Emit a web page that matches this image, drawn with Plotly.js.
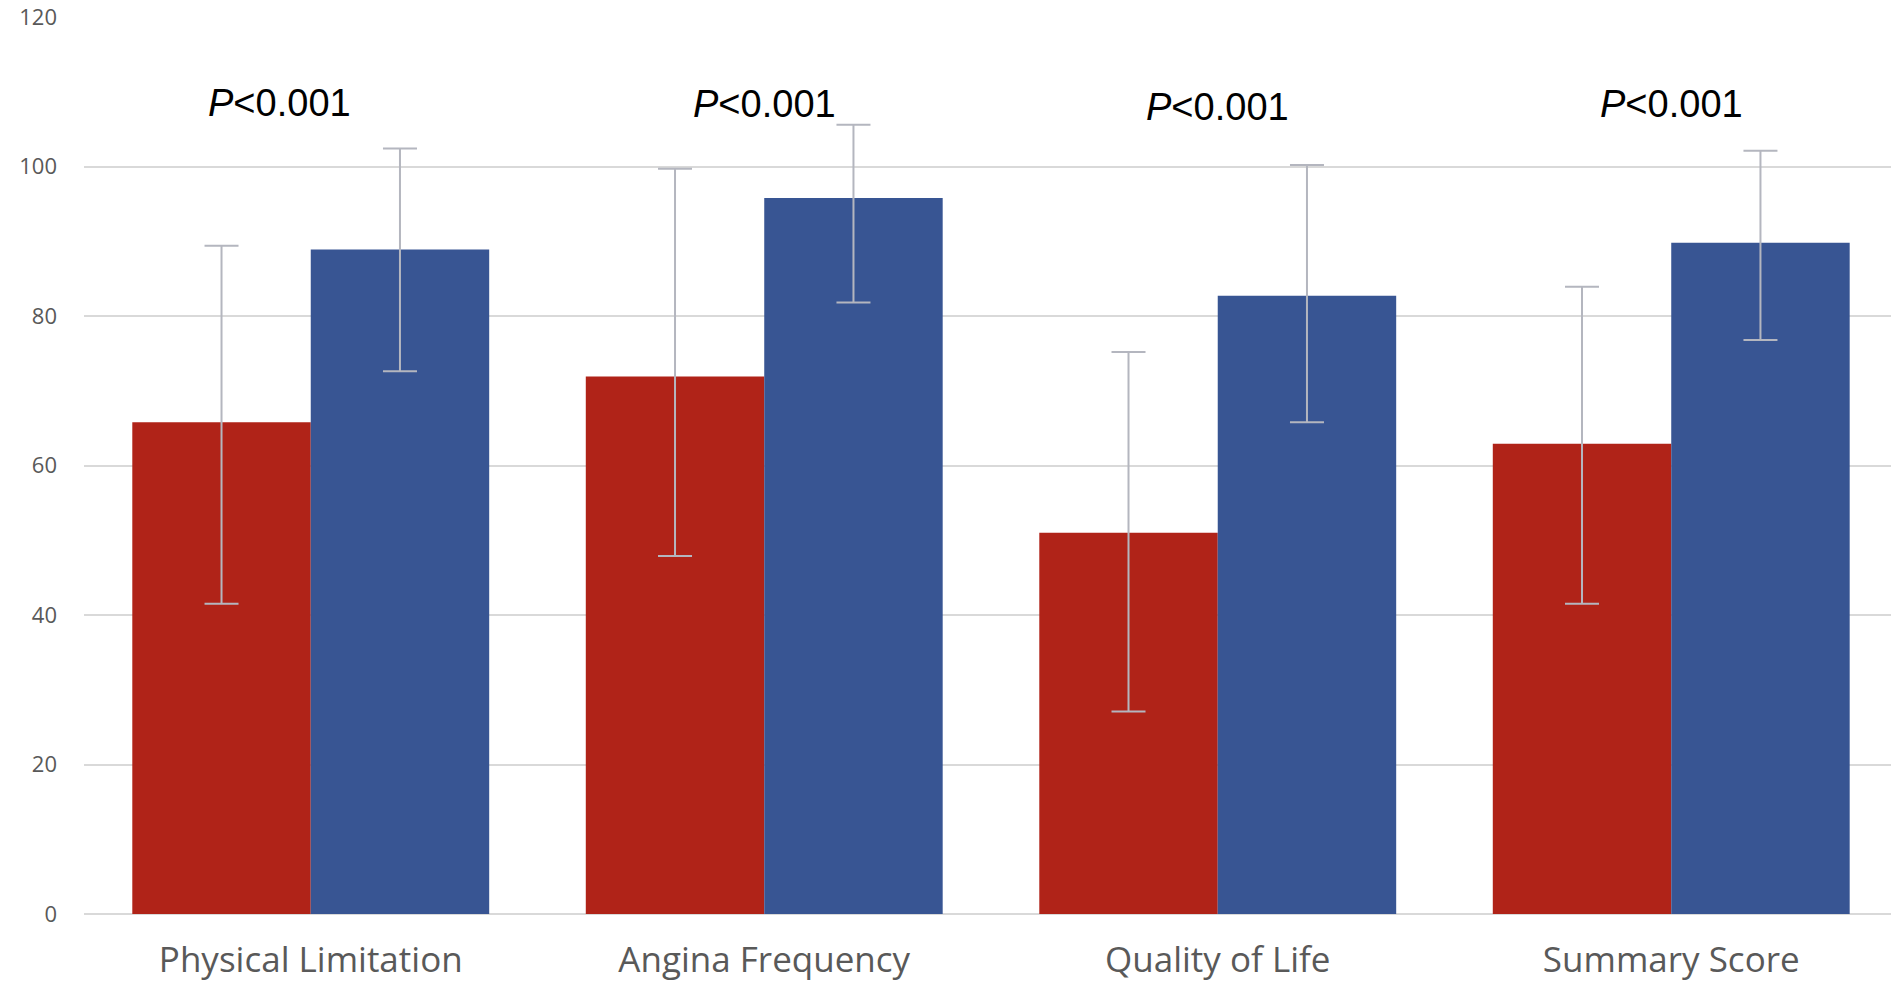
<!DOCTYPE html>
<html>
<head>
<meta charset="utf-8">
<script src="https://cdn.plot.ly/plotly-3.0.1.min.js"></script>
<style>html,body{margin:0;padding:0;background:#fff;}#chart{width:1891px;height:982px;}</style>
</head>
<body>
<div id="chart"></div>
<script>
var categories = ['Physical Limitation', 'Angina Frequency', 'Quality of Life', 'Summary Score'];
var baselineValues = [65.8, 71.9, 51.0, 62.9];
var baselinePlus = [23.6, 27.8, 24.2, 21.0];
var baselineMinus = [24.3, 24.0, 23.9, 21.4];
var followupValues = [88.9, 95.8, 82.7, 89.8];
var followupPlus = [13.5, 9.8, 17.5, 12.3];
var followupMinus = [16.3, 14.0, 16.9, 13.0];
var pLabels = ['<i>P</i>&lt;0.001', '<i>P</i>&lt;0.001', '<i>P</i>&lt;0.001', '<i>P</i>&lt;0.001'];
var pY = [108.5, 108.4, 107.9, 108.4];
var pX = [-0.07, 0, 0, 0];
var yTicks = [0, 20, 40, 60, 80, 100, 120];

var errStyle = {type: 'data', symmetric: false, color: '#b4b6bf', thickness: 2, width: 17};

var traces = [
  {type: 'bar', x: categories, y: baselineValues, marker: {color: '#b02318'},
   error_y: Object.assign({}, errStyle, {array: baselinePlus, arrayminus: baselineMinus})},
  {type: 'bar', x: categories, y: followupValues, marker: {color: '#385593'},
   error_y: Object.assign({}, errStyle, {array: followupPlus, arrayminus: followupMinus})}
];

var annotations = pLabels.map(function (t, i) {
  return {x: i + pX[i], y: pY[i], xref: 'x', yref: 'y', text: t, showarrow: false,
    font: {family: 'Liberation Sans, Arial, sans-serif', size: 38, color: '#000'}};
});

var layout = {
  width: 1891, height: 982,
  margin: {l: 84, r: 0, t: 17, b: 68, pad: 0},
  paper_bgcolor: '#fff', plot_bgcolor: '#fff',
  showlegend: false,
  barmode: 'group', bargap: 0.213, bargroupgap: 0,
  xaxis: {type: 'category', range: [-0.5, 3.4846], showgrid: false, zeroline: false, showline: false,
    ticks: '', ticklabelstandoff: 22,
    tickfont: {family: 'Open Sans, sans-serif', size: 35, color: '#595959'}},
  yaxis: {range: [0, 120], tickvals: yTicks, showgrid: true, gridcolor: '#d9d9d9', gridwidth: 2,
    zeroline: true, zerolinecolor: '#d9d9d9', zerolinewidth: 2, showline: false, ticks: '',
    ticklabelstandoff: 26,
    tickfont: {family: 'Open Sans, sans-serif', size: 22, color: '#595959'}},
  annotations: annotations
};

Plotly.newPlot('chart', traces, layout, {displayModeBar: false, staticPlot: true});
</script>
</body>
</html>
